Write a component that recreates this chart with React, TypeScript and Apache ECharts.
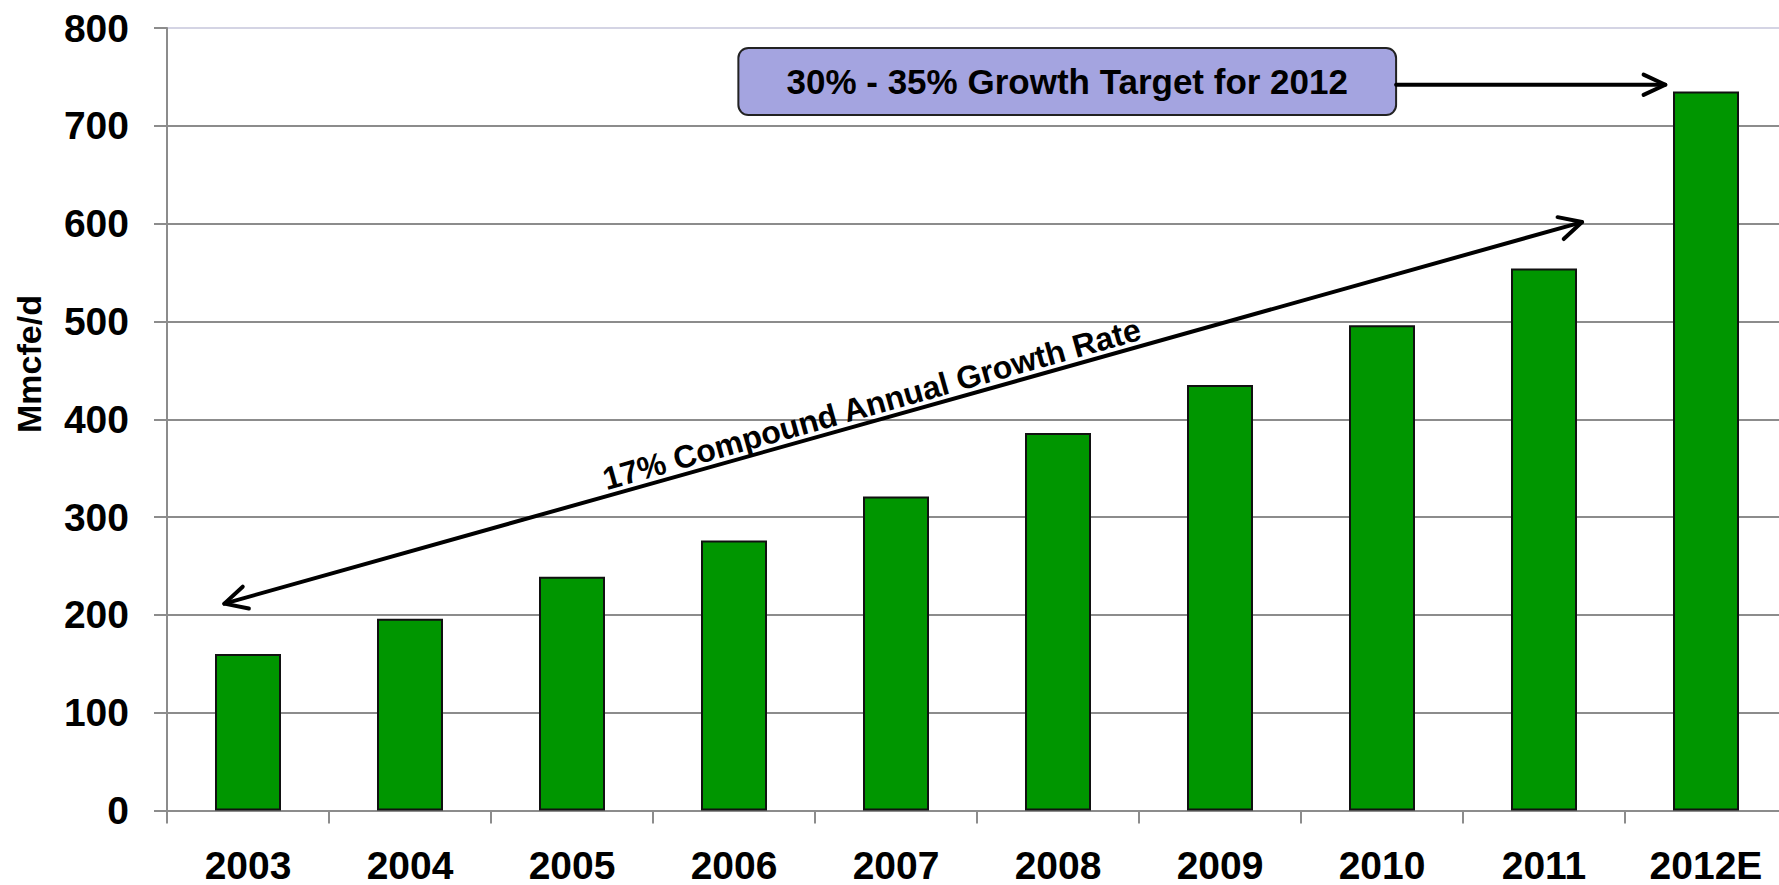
import React, { useEffect, useRef } from "react";
import * as echarts from "echarts";

const categories = ["2003", "2004", "2005", "2006", "2007", "2008", "2009", "2010", "2011", "2012E"];
const production = [160, 196, 239, 276, 321, 386, 435, 496, 554, 735];
const yTicks = [0, 100, 200, 300, 400, 500, 600, 700, 800];
const yAxisTitle = "Mmcfe/d";
const cagrLabel = "17% Compound Annual Growth Rate";
const targetLabel = "30% - 35% Growth Target for 2012";

// annotation anchors in data space: [category index (fractional), value]
const cagrArrowStart = [-0.146, 211.5];
const cagrArrowEnd = [8.235, 601.6];
const cagrTextCenter = [3.85, 415.5];
const targetBoxTopLeft = [3.027, 779.6];
const targetBoxBottomRight = [7.087, 711];
const targetArrowStart = [7.087, 742];
const targetArrowEnd = [8.749, 742];

const FONT = "'Liberation Sans', Arial, Helvetica, sans-serif";

export default function App() {
  const ref = useRef<HTMLDivElement>(null);

  useEffect(() => {
    if (!ref.current) return;
    const chart = echarts.init(ref.current, null, { renderer: "svg" });
    const gridColor = "#8c8c8c";
    const splitColors = yTicks.map((t, i) => (i === yTicks.length - 1 ? "#d4d4e4" : gridColor));
    chart.setOption({
      animation: false,
      backgroundColor: "#ffffff",
      grid: { left: 167, right: 0, top: 28, bottom: 73, containLabel: false },
      xAxis: {
        type: "category",
        data: categories,
        boundaryGap: true,
        axisLine: { show: true, lineStyle: { color: gridColor, width: 2 } },
        axisTick: { show: true, length: 13, alignWithLabel: false, lineStyle: { color: gridColor, width: 2 } },
        axisLabel: {
          color: "#000",
          fontFamily: FONT,
          fontWeight: "bold",
          fontSize: 39,
          lineHeight: 34,
          margin: 38,
        },
        splitLine: { show: false },
      },
      yAxis: {
        type: "value",
        min: yTicks[0],
        max: yTicks[yTicks.length - 1],
        interval: 100,
        axisLine: { show: true, lineStyle: { color: gridColor, width: 2 } },
        axisTick: { show: true, length: 13, lineStyle: { color: gridColor, width: 2 } },
        axisLabel: {
          color: "#000",
          fontFamily: FONT,
          fontWeight: "bold",
          fontSize: 39,
          margin: 38,
        },
        splitLine: { show: true, lineStyle: { color: splitColors, width: 2 } },
      },
      series: [
        {
          type: "bar",
          data: production,
          barWidth: 66,
          itemStyle: { color: "#009600", borderColor: "#111", borderWidth: 2 },
        },
      ],
    });

    const p0 = chart.convertToPixel({ gridIndex: 0 }, [categories[0], 0]) as number[];
    const p1 = chart.convertToPixel({ gridIndex: 0 }, [categories[1], 100]) as number[];
    const band = p1[0] - p0[0];
    const perUnit = (p0[1] - p1[1]) / 100;
    const px = (d: number[]) => [p0[0] + d[0] * band, p0[1] - d[1] * perUnit];

    const head = (tip: number[], from: number[], len = 25, half = (27 * Math.PI) / 180) => {
      const ang = Math.atan2(from[1] - tip[1], from[0] - tip[0]);
      return [
        [tip[0] + len * Math.cos(ang - half), tip[1] + len * Math.sin(ang - half)],
        tip,
        [tip[0] + len * Math.cos(ang + half), tip[1] + len * Math.sin(ang + half)],
      ];
    };
    const lineStyle = { stroke: "#000", lineWidth: 4, lineCap: "round", lineJoin: "round", fill: null };

    const a1 = px(cagrArrowStart);
    const a2 = px(cagrArrowEnd);
    const tc = px(cagrTextCenter);
    const angle = Math.atan2(a1[1] - a2[1], a2[0] - a1[0]);
    const b1 = px(targetBoxTopLeft);
    const b2 = px(targetBoxBottomRight);
    const t1 = px(targetArrowStart);
    const t2 = px(targetArrowEnd);

    chart.setOption({
      graphic: [
        { type: "line", shape: { x1: a1[0], y1: a1[1], x2: a2[0], y2: a2[1] }, style: lineStyle, z: 100 },
        { type: "polyline", shape: { points: head(a1, a2) }, style: lineStyle, z: 100 },
        { type: "polyline", shape: { points: head(a2, a1) }, style: lineStyle, z: 100 },
        {
          type: "text",
          x: tc[0],
          y: tc[1],
          rotation: angle,
          style: {
            text: cagrLabel,
            fontFamily: FONT,
            fontWeight: "bold",
            fontSize: 32,
            fill: "#000",
            align: "center",
            verticalAlign: "middle",
          },
          z: 100,
        },
        {
          type: "rect",
          shape: { x: b1[0], y: b1[1], width: b2[0] - b1[0], height: b2[1] - b1[1], r: 10 },
          style: { fill: "#a4a4e0", stroke: "#222", lineWidth: 2 },
          z: 100,
        },
        {
          type: "text",
          x: (b1[0] + b2[0]) / 2,
          y: (b1[1] + b2[1]) / 2,
          style: {
            text: targetLabel,
            fontFamily: FONT,
            fontWeight: "bold",
            fontSize: 35,
            fill: "#000",
            align: "center",
            verticalAlign: "middle",
          },
          z: 101,
        },
        { type: "line", shape: { x1: t1[0], y1: t1[1], x2: t2[0], y2: t2[1] }, style: lineStyle, z: 100 },
        { type: "polyline", shape: { points: head(t2, t1, 24, (25 * Math.PI) / 180) }, style: lineStyle, z: 100 },
        {
          type: "text",
          x: 28.5,
          y: 364,
          rotation: Math.PI / 2,
          style: {
            text: yAxisTitle,
            fontFamily: FONT,
            fontWeight: "bold",
            fontSize: 34,
            fill: "#000",
            align: "center",
            verticalAlign: "middle",
          },
          z: 100,
        },
      ],
    });

    return () => chart.dispose();
  }, []);

  return (
    <div
      style={{ position: "absolute", left: 0, top: 0, width: 1779, height: 885, overflow: "hidden", background: "#fff" }}
    >
      <div ref={ref} style={{ width: 1787, height: 885 }} />
    </div>
  );
}
